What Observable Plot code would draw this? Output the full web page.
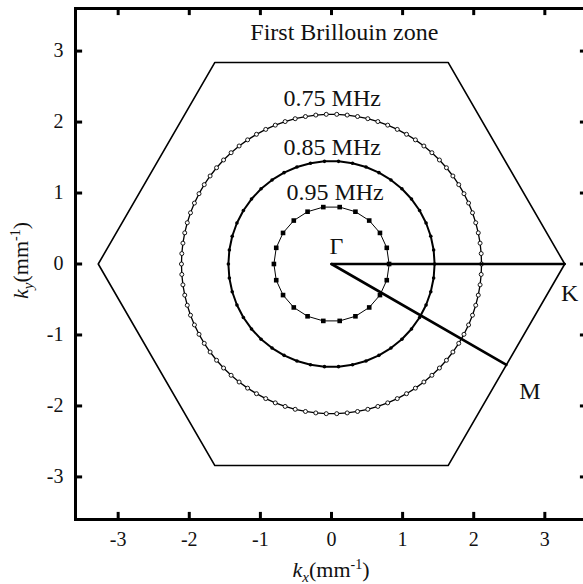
<!DOCTYPE html>
<html><head><meta charset="utf-8">
<script src="https://cdn.jsdelivr.net/npm/d3@7"></script>
<script src="https://cdn.jsdelivr.net/npm/@observablehq/plot@0.6"></script>
<style>
html,body{margin:0;padding:0;background:#fff;}
#chart svg{display:block;}
</style></head><body><div id="chart"></div>
<script>
const FONT = "'Liberation Serif', 'Times New Roman', serif";

// axis ticks
const xTicks = [-3, -2, -1, 0, 1, 2, 3];
const yTicks = [-3, -2, -1, 0, 1, 2, 3];
const xDomain = [-3.6, 3.6];
const yDomain = [-3.6, 3.6];

// first Brillouin zone (hexagon vertices, mm^-1)
const hexKx = [3.28, 1.64, -1.64, -3.28, -1.64, 1.64, 3.28];
const hexKy = [0, 2.84, 2.84, 0, -2.84, -2.84, 0];

// high-symmetry paths Γ-K and Γ-M
const pathGKx = [0, 3.28];
const pathGKy = [0, 0];
const pathGMx = [0, 2.46];
const pathGMy = [0, -1.42];

// iso-frequency contours: wavenumber magnitude at each sampled direction
const radius075 = [
  2.11,2.11,2.11,2.11,2.11,2.11,2.11,2.11,2.11,2.11,2.11,2.11,2.11,2.11,2.11,
  2.11,2.11,2.11,2.11,2.11,2.11,2.11,2.11,2.11,2.11,2.11,2.11,2.11,2.11,2.11,
  2.11,2.11,2.11,2.11,2.11,2.11,2.11,2.11,2.11,2.11,2.11,2.11,2.11,2.11,2.11,
  2.11,2.11,2.11,2.11,2.11,2.11,2.11,2.11,2.11,2.11,2.11,2.11,2.11,2.11,2.11,
  2.11,2.11,2.11,2.11,2.11,2.11,2.11,2.11,2.11,2.11,2.11,2.11,2.11,2.11,2.11,
  2.11,2.11,2.11,2.11,2.11,2.11,2.11,2.11,2.11,2.11,2.11,2.11,2.11,2.11,2.11
];
const radius085 = [
  1.45,1.45,1.45,1.45,1.45,1.45,1.45,1.45,1.45,1.45,1.45,1.45,1.45,1.45,1.45,1.45,
  1.45,1.45,1.45,1.45,1.45,1.45,1.45,1.45,1.45,1.45,1.45,1.45,1.45,1.45,1.45,1.45,
  1.45,1.45,1.45,1.45,1.45,1.45,1.45,1.45,1.45,1.45,1.45,1.45,1.45,1.45
];
const radius095 = [
  0.81,0.81,0.81,0.81,0.81,0.81,0.81,0.81,0.81,0.81,0.81,
  0.81,0.81,0.81,0.81,0.81,0.81,0.81,0.81,0.81,0.81,0.81
];

// annotations
const noteText = ["First Brillouin zone", "0.75 MHz", "0.85 MHz", "0.95 MHz", "Γ", "K", "M"];
const noteX = [0.18, 0.01, 0.01, 0.05, 0.07, 3.35, 2.79];
const noteY = [3.27, 2.34, 1.65, 1.01, 0.25, -0.41, -1.79];

// build tables
const hex = hexKx.map((x, i) => ({x, y: hexKy[i]}));
const pathGK = pathGKx.map((x, i) => ({x, y: pathGKy[i]}));
const pathGM = pathGMx.map((x, i) => ({x, y: pathGMy[i]}));
const toPoints = (radii) => radii.map((r, i) => {
  const a = 2 * Math.PI * i / radii.length;
  return {x: r * Math.cos(a), y: r * Math.sin(a)};
});
const c075 = toPoints(radius075);
const c085 = toPoints(radius085);
const c095 = toPoints(radius095);
const notes = noteText.map((t, i) => ({t, x: noteX[i], y: noteY[i]}));

const W = 583, H = 584;
const plot = Plot.plot({
  width: W, height: H,
  marginLeft: 75, marginRight: -4, marginTop: 8, marginBottom: 65,
  style: {fontFamily: FONT, fontSize: "20px", color: "#000", background: "#fff"},
  x: {domain: xDomain, range: [75, 587]},
  y: {domain: yDomain, range: [519, 8]},
  marks: [
    Plot.line(hex, {x: "x", y: "y", stroke: "#000", strokeWidth: 1.6}),
    Plot.line(c075, {x: "x", y: "y", curve: "linear-closed", stroke: "#000", strokeWidth: 1.3}),
    Plot.dot(c075, {x: "x", y: "y", r: 2, fill: "#fff", stroke: "#000", strokeWidth: 0.9}),
    Plot.line(c085, {x: "x", y: "y", curve: "linear-closed", stroke: "#000", strokeWidth: 2}),
    Plot.dot(c085, {x: "x", y: "y", r: 1.8, fill: "#000", stroke: "none"}),
    Plot.line(c095, {x: "x", y: "y", curve: "linear-closed", stroke: "#000", strokeWidth: 1}),
    Plot.dot(c095, {x: "x", y: "y", r: 2.6, symbol: "square", fill: "#000", stroke: "none"}),
    Plot.line(pathGK, {x: "x", y: "y", stroke: "#000", strokeWidth: 2.6}),
    Plot.line(pathGM, {x: "x", y: "y", stroke: "#000", strokeWidth: 2.6}),
    Plot.text(notes, {x: "x", y: "y", text: "t", fontSize: 24, fontFamily: FONT, fill: "#111", textAnchor: "middle", lineAnchor: "middle"}),
    // inward tick marks on all four sides
    Plot.ruleX(xTicks, {x: d => d, y1: xDomain[0], y2: xDomain[0] + 0.1, stroke: "#000", strokeWidth: 3}),
    Plot.ruleX(xTicks, {x: d => d, y1: yDomain[1], y2: yDomain[1] - 0.1, stroke: "#000", strokeWidth: 3}),
    Plot.ruleY(yTicks, {y: d => d, x1: xDomain[0], x2: xDomain[0] + 0.1, stroke: "#000", strokeWidth: 3}),
    Plot.ruleY(yTicks, {y: d => d, x1: xDomain[1], x2: xDomain[1] - 0.1, stroke: "#000", strokeWidth: 3}),
    Plot.axisX(xTicks, {anchor: "bottom", tickSize: 0, tickPadding: 12, tickFormat: d => String(d), fontSize: 20, fill: "#111", label: null}),
    Plot.axisY(yTicks, {anchor: "left", tickSize: 0, tickPadding: 12, tickFormat: d => String(d), fontSize: 20, fill: "#111", label: null}),
    Plot.frame({stroke: "#000", strokeWidth: 3})
  ]
});
document.getElementById("chart").appendChild(plot);

// axis titles with italic k, subscript and superscript
const svg = d3.select(plot);
const xs = plot.scale("x"), ys = plot.scale("y");
const cx = (xs.apply(0) + 0), cy = ys.apply(0);
function addTitle(sel, sub) {
  sel.attr("font-family", FONT).attr("font-size", 22).attr("fill", "#111");
  sel.append("tspan").attr("font-style", "italic").text("k");
  sel.append("tspan").attr("font-style", "italic").attr("font-size", 15).attr("dy", 5).text(sub);
  sel.append("tspan").attr("dy", -5).text("(mm");
  sel.append("tspan").attr("font-size", 14).attr("dy", -8).text("-1");
  sel.append("tspan").attr("dy", 8).text(")");
}
const xt = svg.append("text").attr("text-anchor", "middle").attr("x", cx).attr("y", 577);
addTitle(xt, "x");
const yt = svg.append("text").attr("text-anchor", "middle").attr("transform", `translate(28,${cy - 3}) rotate(-90)`);
addTitle(yt, "y");
</script>
</body></html>
